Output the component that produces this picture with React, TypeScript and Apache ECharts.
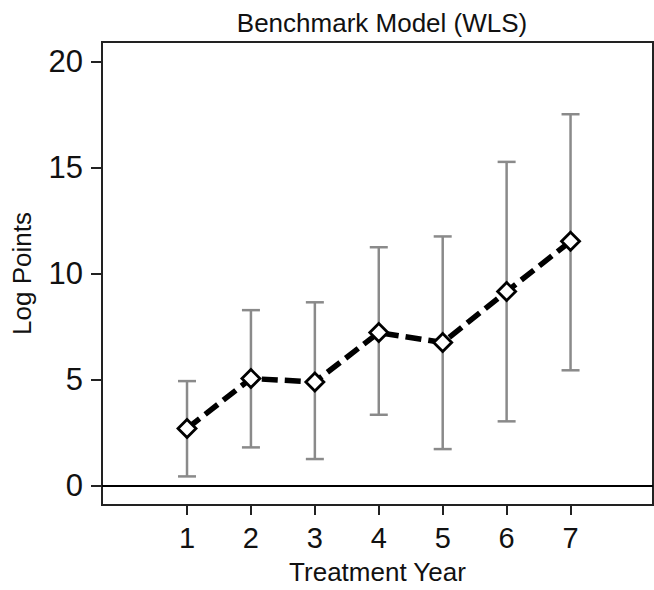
import React, { useEffect, useRef } from "react";
import * as echarts from "echarts";

const years = [1, 2, 3, 4, 5, 6, 7];
const estimates = [2.68, 5.04, 4.88, 7.21, 6.74, 9.15, 11.52];
const lowerCI = [0.42, 1.79, 1.24, 3.33, 1.71, 3.02, 5.43];
const upperCI = [4.92, 8.27, 8.64, 11.24, 11.75, 15.27, 17.52];
const yTicks = [0, 5, 10, 15, 20];
const xTicks = [1, 2, 3, 4, 5, 6, 7];

export default function App() {
  const ref = useRef<HTMLDivElement>(null);
  useEffect(() => {
    if (!ref.current) return;
    const chart = echarts.init(ref.current, null, { renderer: "svg" });
    const font = "Liberation Sans, Arial, Helvetica, sans-serif";
    chart.setOption({
      animation: false,
      backgroundColor: "#ffffff",
      title: {
        text: "Benchmark Model (WLS)",
        left: 377,
        textAlign: "center",
        top: 5,
        textStyle: { fontFamily: font, fontSize: 26, fontWeight: "normal", color: "#111" },
      },
      grid: {
        left: 102,
        top: 42,
        right: 1,
        bottom: 78,
        show: true,
        borderColor: "#222",
        borderWidth: 2,
        containLabel: false,
      },
      xAxis: {
        type: "value",
        min: -0.33,
        max: 8.29,
        name: "Treatment Year",
        nameLocation: "middle",
        nameGap: 54,
        nameTextStyle: { fontFamily: font, fontSize: 26, color: "#111" },
        splitLine: { show: false },
        axisLine: { show: true, onZero: false, lineStyle: { color: "#222", width: 2 } },
        axisTick: { show: true, length: 10, lineStyle: { color: "#222", width: 2 }, customValues: xTicks },
        axisLabel: { fontFamily: font, fontSize: 29, color: "#111", margin: 18, customValues: xTicks },
      },
      yAxis: {
        type: "value",
        min: -0.93,
        max: 20.93,
        name: "Log Points",
        nameLocation: "middle",
        nameGap: 67,
        nameTextStyle: { fontFamily: font, fontSize: 26, color: "#111" },
        splitLine: { show: false },
        axisLine: { show: true, onZero: false, lineStyle: { color: "#222", width: 2 } },
        axisTick: { show: true, length: 11, lineStyle: { color: "#222", width: 2 }, customValues: yTicks },
        axisLabel: { fontFamily: font, fontSize: 31, color: "#111", margin: 19, customValues: yTicks },
      },
      series: [
        {
          type: "custom",
          data: years.map((x, i) => [x, lowerCI[i], upperCI[i]]),
          renderItem: (params: any, api: any) => {
            const x = api.value(0);
            const lo = api.coord([x, api.value(1)]);
            const hi = api.coord([x, api.value(2)]);
            const half = 9;
            const style = { stroke: "#8a8a8a", lineWidth: 2.5 };
            return {
              type: "group",
              children: [
                { type: "line", shape: { x1: lo[0], y1: lo[1], x2: hi[0], y2: hi[1] }, style },
                { type: "line", shape: { x1: lo[0] - half, y1: lo[1], x2: lo[0] + half, y2: lo[1] }, style },
                { type: "line", shape: { x1: hi[0] - half, y1: hi[1], x2: hi[0] + half, y2: hi[1] }, style },
              ],
            };
          },
          z: 1,
        },
        {
          type: "line",
          data: years.map((x, i) => [x, estimates[i]]),
          symbol: "diamond",
          symbolSize: 18,
          lineStyle: { color: "#000", width: 5.5, type: [16, 7] },
          itemStyle: { color: "#fff", borderColor: "#000", borderWidth: 2.8 },
          z: 3,
          markLine: {
            silent: true,
            symbol: "none",
            label: { show: false },
            lineStyle: { color: "#000", width: 2, type: "solid" },
            data: [{ yAxis: 0 }],
          },
        },
      ],
    });
    return () => chart.dispose();
  }, []);
  return (
    <div
      ref={ref}
      style={{ position: "fixed", left: 0, top: 0, width: 654, height: 590 }}
    />
  );
}
